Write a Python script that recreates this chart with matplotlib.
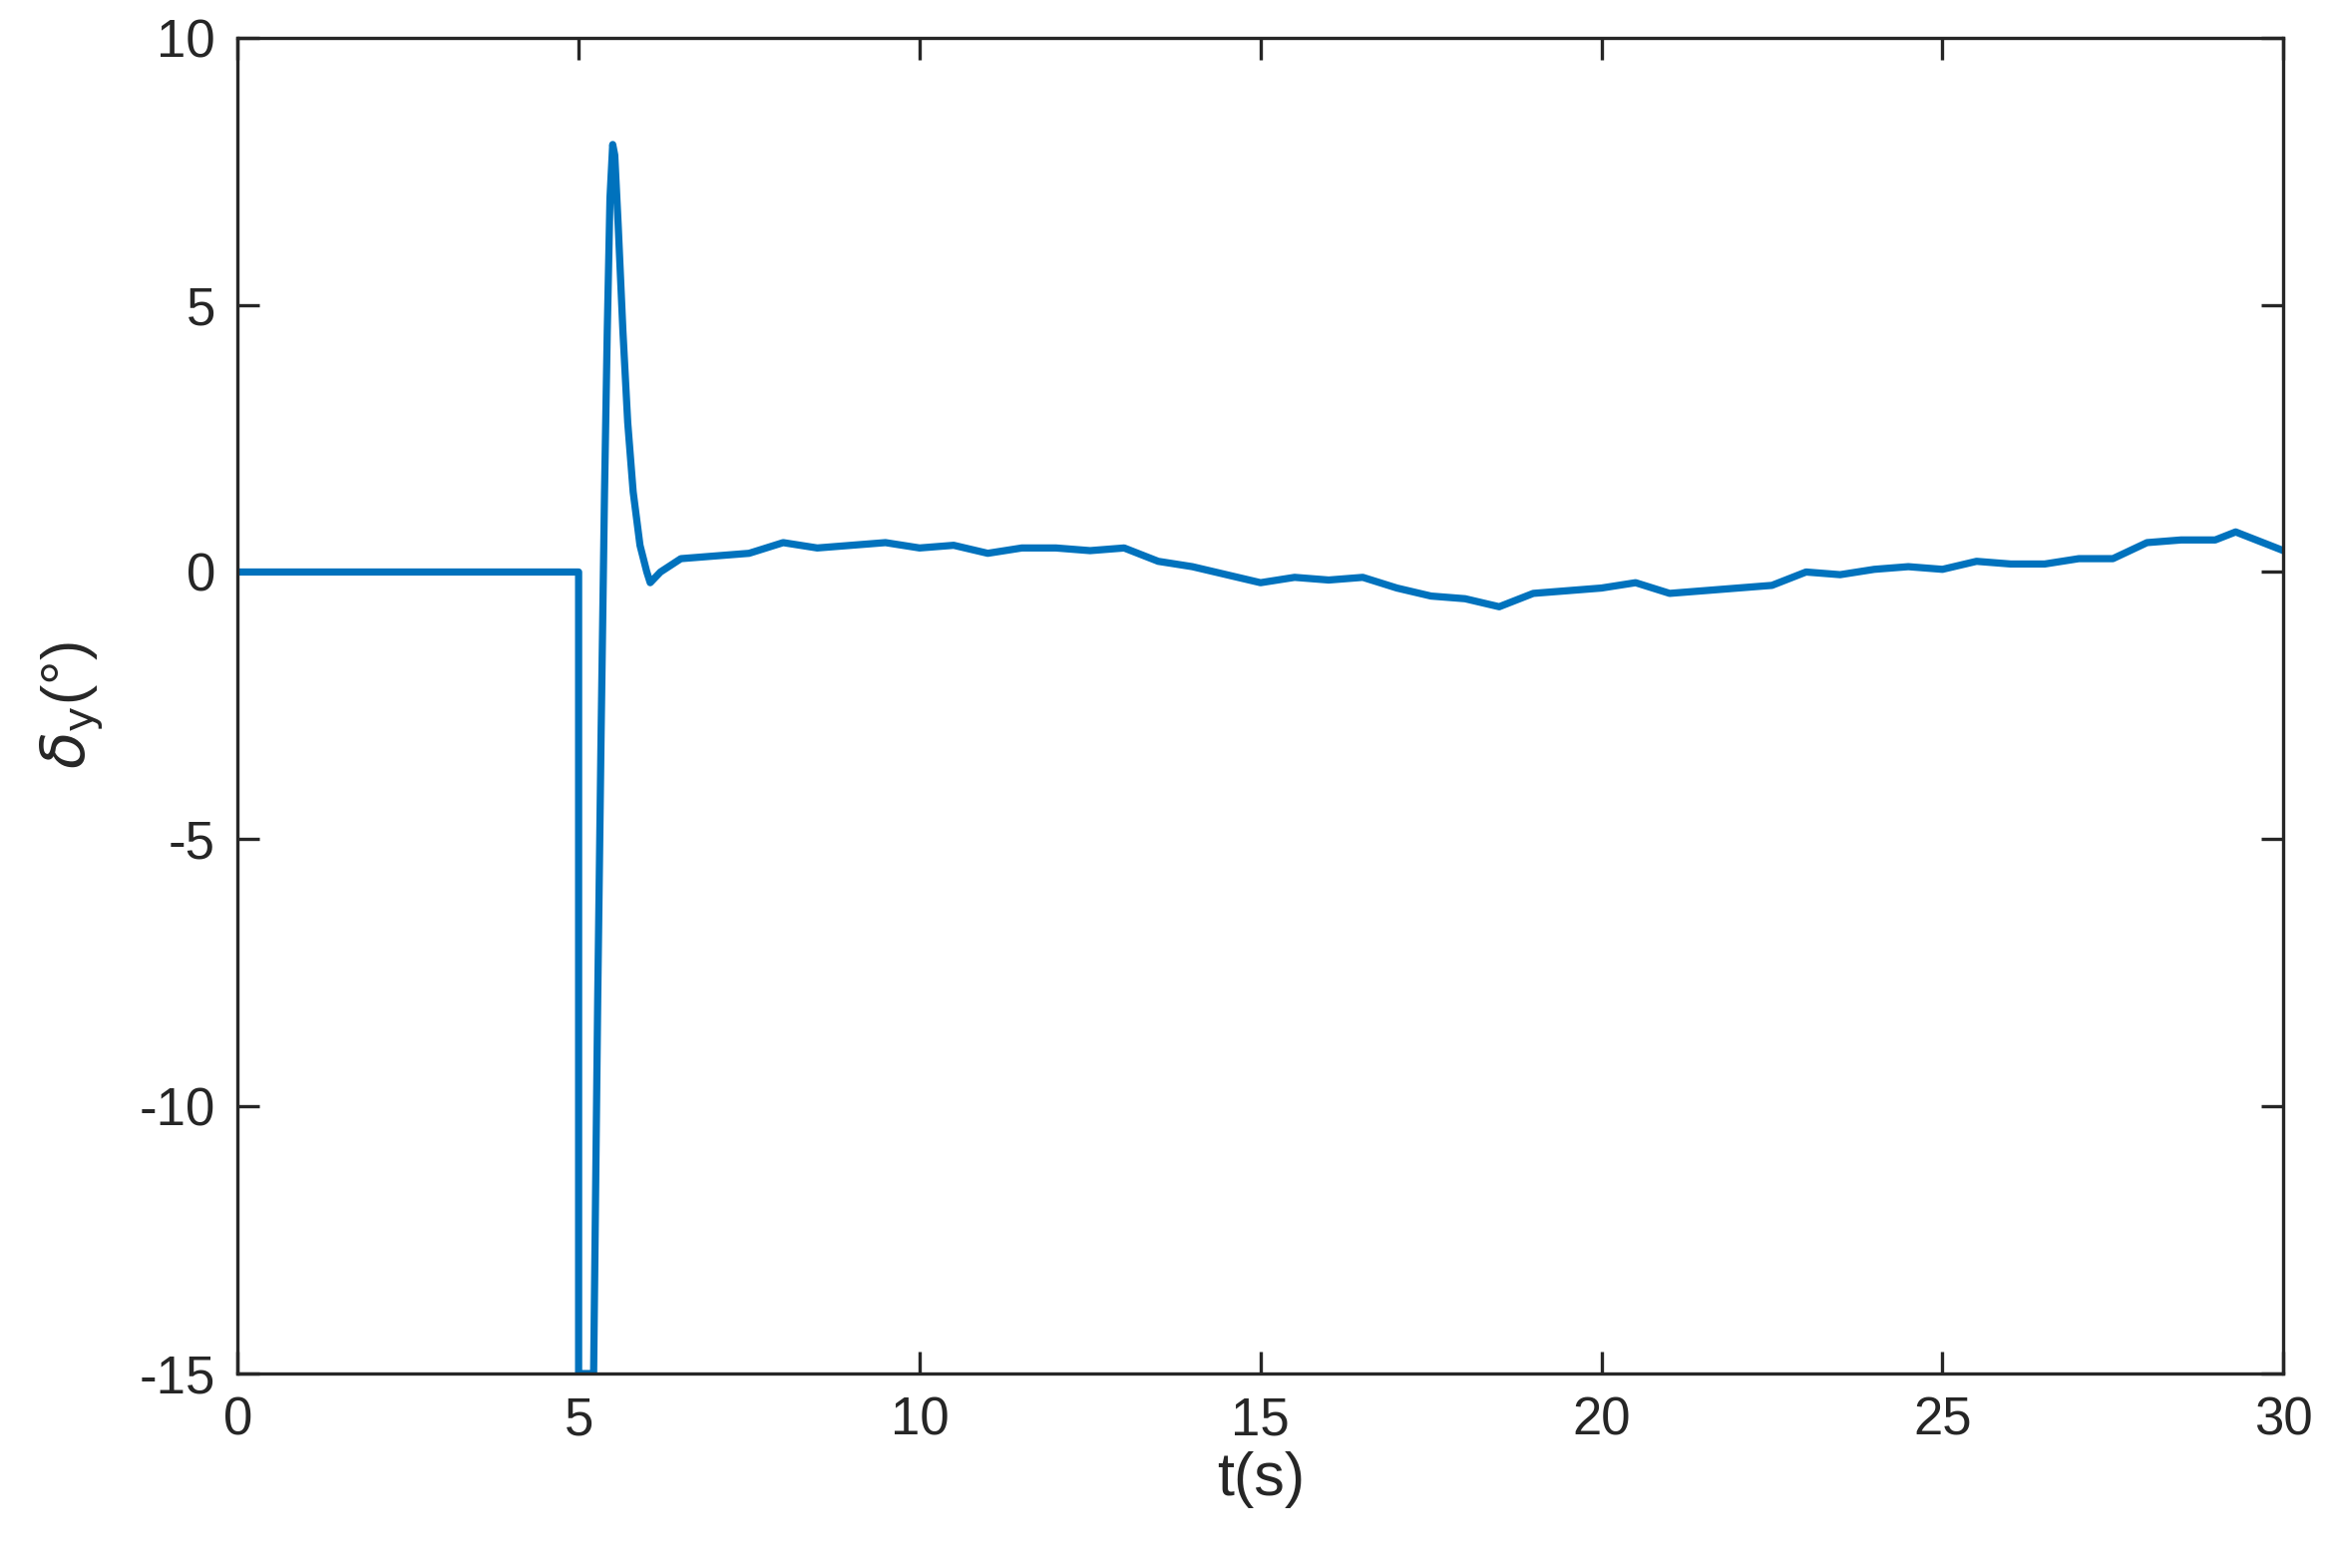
import matplotlib
matplotlib.use("Agg")
import matplotlib.pyplot as plt

# trace of delta_y (noise not reproduced)
t = [0, 5.0, 5.0, 5.22, 5.28, 5.33, 5.38, 5.42, 5.46, 5.5, 5.53, 5.58, 5.65, 5.72,
     5.8, 5.9, 6.0, 6.05, 6.2, 6.5, 7, 7.5, 8, 8.5, 9, 9.5, 10, 10.5, 11, 11.5,
     12, 12.5, 13, 13.5, 14, 14.5, 15, 15.5, 16, 16.5, 17, 17.5, 18, 18.5, 19,
     19.5, 20, 20.5, 21, 21.5, 22, 22.5, 23, 23.5, 24, 24.5, 25, 25.5, 26, 26.5,
     27, 27.5, 28, 28.5, 29, 29.3, 29.7, 30]
dy = [0, 0, -15, -15, -8, -3, 1.5, 4.5, 7.0, 8.0, 7.8, 6.5, 4.5, 2.8,
      1.5, 0.5, 0.0, -0.2, 0.0, 0.25, 0.3, 0.35, 0.55, 0.45, 0.5, 0.55, 0.45, 0.5, 0.35, 0.45,
      0.45, 0.4, 0.45, 0.2, 0.1, -0.05, -0.2, -0.1, -0.15, -0.1, -0.3, -0.45, -0.5, -0.65, -0.4,
      -0.35, -0.3, -0.2, -0.4, -0.35, -0.3, -0.25, 0.0, -0.05, 0.05, 0.1, 0.05, 0.2, 0.15, 0.15,
      0.25, 0.25, 0.55, 0.6, 0.6, 0.75, 0.55, 0.4]

plt.rcParams['font.family'] = ['Liberation Sans', 'DejaVu Sans']
plt.rcParams['axes.unicode_minus'] = False
fig = plt.figure(figsize=(11.68, 7.86), dpi=200)
ax = fig.add_axes([0.102, 0.124, 0.878, 0.852])
ax.plot(t, dy, color='#0072BD', lw=2.6)
ax.set_xlim(0, 30)
ax.set_ylim(-15, 10)
ax.set_xticks(range(0, 31, 5))
ax.set_yticks([-15, -10, -5, 0, 5, 10])
ax.tick_params(direction='in', top=True, right=True, labelsize=19, length=8,
               width=1.2, colors='#262626', pad=8)
for s in ax.spines.values():
    s.set_linewidth(1.2)
    s.set_color('#262626')
ax.set_xlabel('t(s)', fontsize=22, color='#262626', labelpad=2)
ax.set_ylabel(r'$\delta_{\mathrm{y}}$(°)', fontsize=22, color='#262626', labelpad=12)
fig.savefig('out.png', dpi=200)
